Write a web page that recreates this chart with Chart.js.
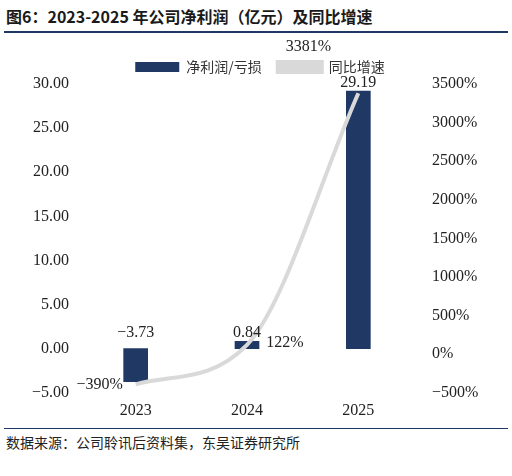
<!DOCTYPE html>
<html><head><meta charset="utf-8">
<script src="https://cdn.jsdelivr.net/npm/chart.js@4"></script>
<style>
body{margin:0;background:#fff;width:512px;height:476px;position:relative;font-family:"Noto Sans CJK SC";}
#t{position:absolute;left:6px;top:4px;font-size:16px;font-weight:bold;color:#1a1a1a;}
#tl{position:absolute;left:4px;right:4px;top:31px;border-top:2px solid #1f3864;}
#bl{position:absolute;left:4px;right:4px;top:428px;border-top:1.5px solid #1f3864;}
#f{position:absolute;left:6px;top:432px;font-size:14px;color:#222;}
#w{position:absolute;left:0;top:38px;width:512px;height:388px;}
</style></head><body>
<div id="t">图6：2023-2025 年公司净利润（亿元）及同比增速</div>
<div id="tl"></div>
<div id="w"><canvas id="c"></canvas></div>
<div id="bl"></div>
<div id="f">数据来源：公司聆讯后资料集，东吴证券研究所</div>
<script>
const categories=["2023","2024","2025"];
const profit=[-3.73,0.84,29.19];
const growth=[-390,122,3381];
const leftTicks=[-5,0,5,10,15,20,25,30];
const rightTicks=[-500,0,500,1000,1500,2000,2500,3000,3500];
const numFont={family:"Liberation Serif",size:16};
const labels={id:'labels',afterDatasetsDraw(ch){
 const x=ch.ctx;x.save();x.font='16px "Liberation Serif"';x.fillStyle='#222';x.textAlign='center';
 ch.getDatasetMeta(0).data.forEach((b,i)=>{const v=profit[i];const y=v>=0?b.y-8:b.base-16;x.fillText(v.toFixed(2).replace('-','−'),b.x,y);});
 const m=ch.getDatasetMeta(1).data;
 const off=[[-36,0],[38,-2],[-50,-46]];
 m.forEach((p,i)=>{x.fillText(String(growth[i]).replace('-','−')+'%',p.x+off[i][0],p.y+off[i][1]);});
 x.restore();}};
new Chart(document.getElementById('c'),{
 data:{labels:categories,datasets:[
  {type:'bar',label:'净利润/亏损',data:profit,backgroundColor:'#1f3864',yAxisID:'y',barThickness:24,order:2},
  {type:'line',label:'同比增速',data:growth,borderColor:'#d9d9d9',backgroundColor:'#d9d9d9',borderWidth:4,pointRadius:0,cubicInterpolationMode:'monotone',yAxisID:'y1',order:1}]},
 options:{responsive:true,maintainAspectRatio:false,animation:false,
  layout:{padding:{left:18,right:10,top:6,bottom:6}},
  plugins:{legend:{labels:{font:{family:"Noto Sans CJK SC",size:14},color:'#333',boxWidth:44,boxHeight:10,padding:16,sort:(a,b)=>a.datasetIndex-b.datasetIndex}},tooltip:{enabled:false}},
  scales:{
   x:{offset:true,grid:{display:false},border:{display:false},ticks:{font:numFont,color:'#222',padding:0}},
   y:{min:-5,max:30,afterBuildTicks(a){a.ticks=leftTicks.map(v=>({value:v}));},afterFit(a){a.width=62;},grid:{display:false},border:{display:false},ticks:{font:numFont,color:'#222',callback:v=>v.toFixed(2).replace('-','−')}},
   y1:{position:'right',min:-500,max:3500,afterBuildTicks(a){a.ticks=rightTicks.map(v=>({value:v}));},afterFit(a){a.width=88;},grid:{display:false},border:{display:false},ticks:{font:numFont,color:'#222',padding:10,callback:v=>String(v).replace('-','−')+'%'}}
  }},
 plugins:[labels]});
</script></body></html>
